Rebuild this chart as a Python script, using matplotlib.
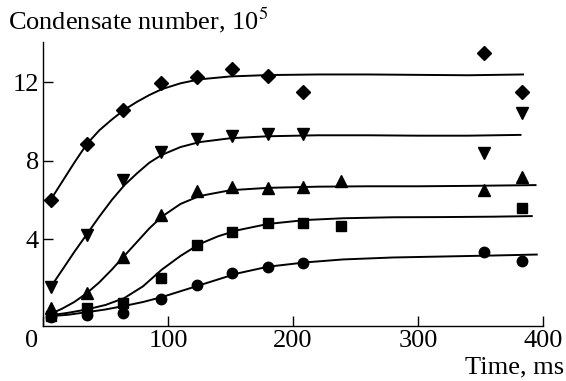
import matplotlib.pyplot as plt
import matplotlib.transforms as mtransforms

plt.rcParams['font.family'] = ['Liberation Serif', 'DejaVu Serif']
plt.rcParams['mathtext.fontset'] = 'stix'

# measurement times, ms
t = [6, 35, 64, 94, 123, 151, 180, 208, 238, 353, 383]

# condensate number (x 10^5) for each series, None where nothing was measured
diamonds = [6.0, 8.85, 10.6, 11.95, 12.28, 12.7, 12.3, 11.49, None, 13.5, 11.49]
tri_down = [1.57, 4.2, 7.0, 8.46, 9.09, 9.26, 9.36, 9.36, None, 8.41, 10.42]
tri_up = [0.48, 1.25, 3.1, 5.23, 6.47, 6.67, 6.59, 6.64, 6.98, 6.5, 7.15]
squares = [0.08, 0.48, 0.74, 2.0, 3.7, 4.38, 4.84, 4.82, 4.67, None, 5.57]
circles = [0.05, 0.13, 0.25, 0.94, 1.66, 2.29, 2.58, 2.78, None, 3.33, 2.88]

# fitted curves
fit_t1 = [6, 15, 25, 35, 45, 55, 65, 75, 85, 95, 110, 125, 150, 180, 220, 260, 300, 340, 384]
fit_d = [6.0, 6.9, 7.9, 8.85, 9.55, 10.1, 10.6, 11.0, 11.35, 11.65, 11.95, 12.15, 12.3, 12.37, 12.4, 12.4, 12.38, 12.36, 12.4]

fit_t2 = [6, 15, 25, 35, 45, 55, 65, 75, 85, 95, 110, 125, 150, 180, 220, 260, 300, 340, 382]
fit_v = [1.55, 2.4, 3.35, 4.25, 5.15, 6.0, 6.75, 7.35, 7.9, 8.3, 8.7, 8.95, 9.15, 9.25, 9.3, 9.3, 9.28, 9.28, 9.32]

fit_t3 = [6, 15, 25, 35, 45, 55, 65, 75, 85, 95, 110, 125, 150, 180, 220, 260, 300, 340, 394]
fit_u = [0.2, 0.45, 0.8, 1.25, 1.8, 2.45, 3.15, 3.85, 4.55, 5.15, 5.8, 6.2, 6.5, 6.62, 6.68, 6.7, 6.7, 6.72, 6.76]

fit_t4 = [6, 20, 35, 50, 65, 80, 95, 110, 125, 140, 155, 180, 210, 240, 280, 320, 360, 391]
fit_s = [0.12, 0.25, 0.42, 0.65, 1.0, 1.6, 2.45, 3.15, 3.75, 4.15, 4.45, 4.78, 4.98, 5.07, 5.12, 5.13, 5.15, 5.18]

fit_t5 = [6, 20, 35, 50, 65, 80, 95, 110, 125, 140, 155, 180, 210, 240, 280, 320, 360, 395]
fit_c = [0.08, 0.15, 0.28, 0.42, 0.6, 0.8, 1.05, 1.35, 1.65, 1.95, 2.25, 2.6, 2.82, 2.97, 3.07, 3.12, 3.17, 3.22]

fig = plt.figure(figsize=(5.66, 3.81), dpi=100)
ax = fig.add_axes([0.076, 0.144, 0.8834, 0.746])

for ft, fy in [(fit_t1, fit_d), (fit_t2, fit_v), (fit_t3, fit_u), (fit_t4, fit_s), (fit_t5, fit_c)]:
    ax.plot(ft, fy, color='black', lw=1.4, zorder=2)

def pts(vals):
    xs = [x for x, v in zip(t, vals) if v is not None]
    ys = [v for v in vals if v is not None]
    return xs, ys

ax.plot(*pts(diamonds), 'D', color='black', ms=7, ls='none', zorder=3)
ax.plot(*pts(tri_down), 'v', color='black', ms=8.5, ls='none', zorder=3)
ax.plot(*pts(tri_up), '^', color='black', ms=8.5, ls='none', zorder=3)
ax.plot(*pts(squares), 's', color='black', ms=6.5, ls='none', zorder=3)
ax.plot(*pts(circles), 'o', color='black', ms=7.5, ls='none', zorder=3)

ax.set_xlim(0, 400)
ax.set_ylim(-0.43, 14.06)
ax.set_xticks([0, 100, 200, 300, 400])
ax.set_yticks([4, 8, 12])
ax.spines['top'].set_visible(False)
ax.spines['right'].set_visible(False)
for s in ['left', 'bottom']:
    ax.spines[s].set_linewidth(1.0)
ax.tick_params(direction='in', length=7, width=1.0, labelsize=19, pad=3)
ax.tick_params(axis='y', pad=3)

# the "0" sits a little left of the corner
zero = ax.get_xticklabels()[0]
zero.set_horizontalalignment('right')
zero.set_transform(zero.get_transform() + mtransforms.ScaledTranslation(-5 / 100, 0, fig.dpi_scale_trans))

fig.text(0.014, 0.922, 'Condensate number, 10$^5$', fontsize=19, ha='left', va='baseline')
fig.text(0.997, 0.02, 'Time, ms', fontsize=19, ha='right', va='baseline')

fig.savefig('out.png', dpi=100)
